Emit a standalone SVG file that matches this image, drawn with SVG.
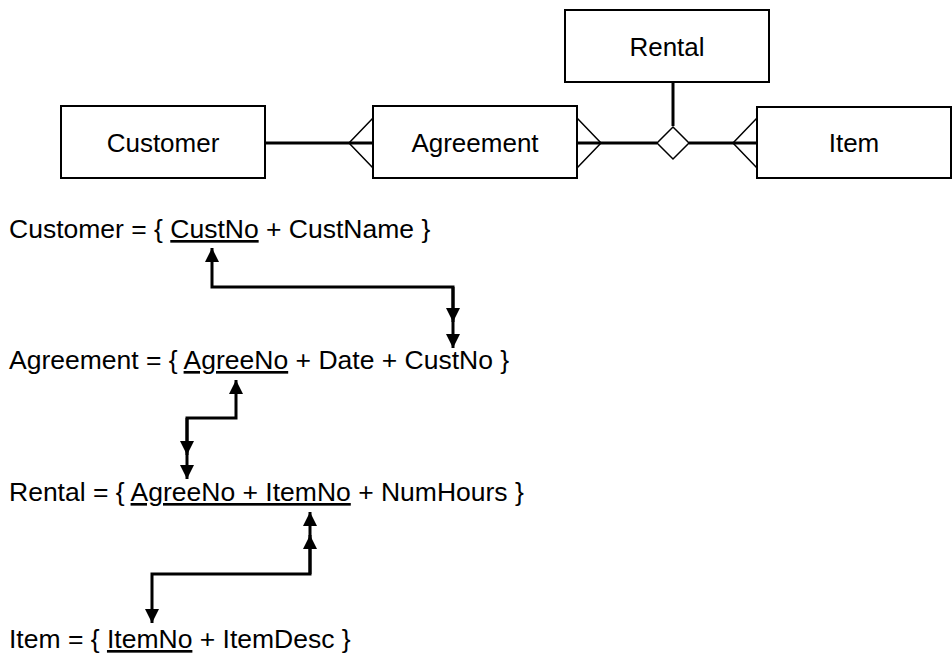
<svg xmlns="http://www.w3.org/2000/svg" width="952" height="654" viewBox="0 0 952 654">
<style>
.box{fill:#fff;stroke:#000;stroke-width:2}
.lbl{font-family:"Liberation Sans",Arial,sans-serif;font-size:26px;fill:#000;text-anchor:middle}
.txt{font-family:"Liberation Sans",Arial,sans-serif;font-size:26.5px;fill:#000}
.u{text-decoration:underline}
.rel{fill:none;stroke:#000;stroke-width:3}
.foot{fill:none;stroke:#000;stroke-width:1.5}
.conn{fill:none;stroke:#000;stroke-width:3}
</style>
<defs>
<marker id="ah" viewBox="0 0 14 14" refX="14" refY="7" markerWidth="14" markerHeight="14" markerUnits="userSpaceOnUse" orient="auto">
<path d="M0,0 L14,7 L0,14 Z" fill="#000"/>
</marker>
</defs>
<rect width="952" height="654" fill="#fff"/>
<g id="connectors">
<line class="rel" x1="265" y1="143" x2="373" y2="143"/>
<line class="rel" x1="577" y1="143" x2="657" y2="143"/>
<line class="rel" x1="689" y1="143" x2="757" y2="143"/>
<line class="rel" x1="673" y1="82" x2="673" y2="126"/>
<polyline class="foot" points="373,118 349,143 373,168"/>
<polyline class="foot" points="577,118 601,143 577,168"/>
<polyline class="foot" points="757,118 733,143 757,168"/>
<path class="conn" d="M453,322 L453,287 L212,287 L212,248" marker-end="url(#ah)"/>
<path class="conn" d="M453,287 L453,322" marker-end="url(#ah)"/>
<path class="conn" d="M453,322 L453,348" marker-end="url(#ah)"/>
<path class="conn" d="M187,455 L187,418 L236,418 L236,380" marker-end="url(#ah)"/>
<path class="conn" d="M187,418 L187,455" marker-end="url(#ah)"/>
<path class="conn" d="M187,455 L187,479" marker-end="url(#ah)"/>
<path class="conn" d="M310,535 L310,574 L152,574 L152,623" marker-end="url(#ah)"/>
<path class="conn" d="M310,574 L310,535" marker-end="url(#ah)"/>
<path class="conn" d="M310,535 L310,512" marker-end="url(#ah)"/>
</g>
<g id="customer">
<rect class="box" x="61" y="106" width="204" height="72"/>
<text class="lbl" x="163" y="152">Customer</text>
</g>
<g id="agreement">
<rect class="box" x="373" y="106" width="204" height="72"/>
<text class="lbl" x="475" y="152">Agreement</text>
</g>
<g id="rental">
<rect class="box" x="565" y="10" width="204" height="72"/>
<text class="lbl" x="667" y="56">Rental</text>
</g>
<g id="item">
<rect class="box" x="757" y="107" width="194" height="71"/>
<text class="lbl" x="854" y="152">Item</text>
</g>
<g id="rental-rel">
<polygon points="673,127 689,143 673,159 657,143" fill="#fff" stroke="#000" stroke-width="1.5"/>
</g>
<g id="stmt-customer">
<text class="txt" x="9" y="238">Customer = { <tspan class="u">CustNo</tspan> + CustName }</text>
</g>
<g id="stmt-agreement">
<text class="txt" x="9" y="369">Agreement = { <tspan class="u">AgreeNo</tspan> + Date + CustNo }</text>
</g>
<g id="stmt-rental">
<text class="txt" x="9" y="501">Rental = { <tspan class="u">AgreeNo + ItemNo</tspan> + NumHours }</text>
</g>
<g id="stmt-item">
<text class="txt" x="9" y="648">Item = { <tspan class="u">ItemNo</tspan> + ItemDesc }</text>
</g>
</svg>
